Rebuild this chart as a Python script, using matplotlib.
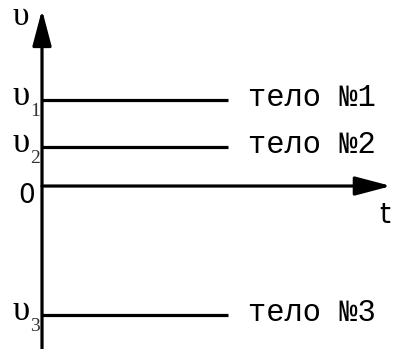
import matplotlib
matplotlib.use("Agg")
import matplotlib.pyplot as plt
from matplotlib.patches import ArrowStyle

# data: constant speeds of three bodies (arbitrary units), time span of the lines
bodies = ["тело №1", "тело №2", "тело №3"]
subscripts = ["1", "2", "3"]
speeds = [2.0, 0.9, -3.0]
t_end = 4.33

# axis extents
t_max = 8.12
v_max = 4.1
xlim = (-0.977, 8.21)
ylim = (-3.79, 4.326)

fig = plt.figure(figsize=(3.95, 3.49), dpi=100)
ax = fig.add_axes([0, 0, 1, 1])
ax.set_xlim(*xlim)
ax.set_ylim(*ylim)
ax.axis("off")

head = ArrowStyle("-|>", head_length=22, head_width=5.8)
arrow_kw = dict(arrowstyle=head, lw=2.3, color="black",
                shrinkA=0, shrinkB=0, mutation_scale=1)
ax.annotate("", xy=(0, v_max), xytext=(0, ylim[0]), arrowprops=arrow_kw)
ax.annotate("", xy=(t_max, 0), xytext=(0, 0), arrowprops=arrow_kw)

serif = "Liberation Serif"
off = dict(textcoords="offset pixels", annotation_clip=False)

for name, sub, v in zip(bodies, subscripts, speeds):
    ax.plot([0, t_end], [v, v], color="black", lw=2.3, solid_capstyle="butt")
    ax.annotate(name, xy=(t_end, v), xytext=(20, -6), family="Liberation Mono",
                fontsize=22, ha="left", va="baseline", **off)
    ax.annotate("υ", xy=(0, v), xytext=(-21, -5), family=serif,
                fontsize=25, ha="center", va="baseline", **off)
    ax.annotate(sub, xy=(0, v), xytext=(-7, -16), family=serif,
                fontsize=14, ha="center", va="baseline", color="#333333", **off)

ax.annotate("0", xy=(0, 0), xytext=(-15, -17), fontsize=19,
            ha="center", va="baseline", **off)
ax.annotate("υ", xy=(0, v_max), xytext=(-21, -15), family=serif, fontsize=24,
            ha="center", va="baseline", **off)
ax.annotate("t", xy=(t_max, 0), xytext=(-6, -37), fontsize=20,
            ha="center", va="baseline", **off)

fig.savefig("out.png", dpi=100)
